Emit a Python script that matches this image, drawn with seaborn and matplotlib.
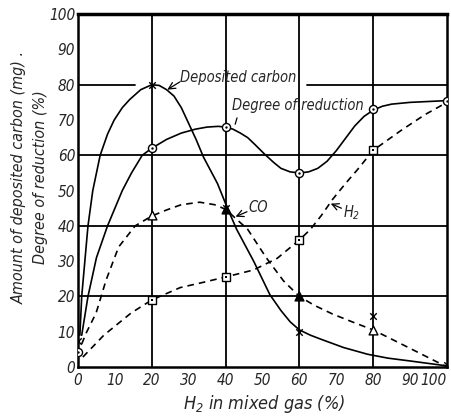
import matplotlib
matplotlib.use("Agg")
import matplotlib.pyplot as plt
import seaborn as sns
import pandas as pd

sns.set_theme(style="white")
plt.rcParams["font.family"] = ["DejaVu Sans"]
plt.rcParams["font.stretch"] = "condensed"
plt.rcParams["font.style"] = "italic"
plt.rcParams["mathtext.fontset"] = "dejavusans"
plt.rcParams["mathtext.default"] = "it"

# curves
carbon_x = [0.5, 1, 2.7, 4, 6, 8, 9.8, 12, 14, 17, 20, 22, 24, 26, 28, 30, 32, 34, 37.8, 40.5,
            43, 47.6, 52, 55, 57.5, 60, 63, 66, 72, 78.5, 84, 90, 95, 100]
carbon_y = [9, 20, 40, 50, 60, 66, 70, 73.5, 75.8, 78.6, 80, 79.8, 78.6, 76.8, 73.5, 69, 64.5, 59.5, 52, 45,
            39, 30, 20.5, 16, 12.8, 10.5, 9, 7.8, 5.5, 3.6, 2.5, 1.7, 1, 0.3]
reduct_x = [1, 2.7, 5, 8, 12, 14.5, 17.4, 20, 24, 28, 31.8, 35, 38, 40, 42, 44, 46, 48, 50.4, 53, 55, 57.5,
            60, 62.5, 65, 67.5, 70, 72.5, 75, 77.5, 80, 82.5, 85, 90, 100]
reduct_y = [9, 20, 31, 40, 50, 55, 60, 62, 64.5, 66.3, 67.4, 68, 68.2, 68, 67.4, 66.3, 65, 63, 60.5, 58,
            56.3, 55.3, 55, 55.3, 56.3, 58.3, 61.3, 64.8, 68.3, 71, 72.8, 73.9, 74.5, 75, 75.5]
co_x = [1, 2.2, 4.9, 7.6, 11, 15.5, 20, 24, 28, 33, 37, 40, 46, 51, 55.7, 60, 64, 69, 75, 80, 89, 100]
co_y = [6.5, 9.6, 15.3, 24.6, 34, 40, 42.8, 44.5, 46, 46.7, 46, 44.7, 39, 31, 24.4, 20, 17.5, 15, 12.5,
        10.5, 5.8, 0]
h2_x = [1.3, 7, 14.4, 20, 27.7, 34, 40, 47.6, 54, 60, 63, 66, 69, 72.5, 75.8, 80, 87.5, 94, 100]
h2_y = [2.8, 9, 15.3, 19, 22.5, 24, 25.5, 27.5, 30.8, 36, 39, 43, 47.5, 52, 56, 61.4, 67, 71.5, 75]

# measured points
h2_pct = [0, 20, 40, 60, 80, 100]
carbon_pts = [7.5, 80, 45, 10, 14.5, 0.5]
reduct_pts = [4.3, 62, 68, 55, 73, 75.3]
co_pct = [20, 40, 60, 80]
co_pts = [43, 44.7, 20, 10.5]
co_filled = [False, True, True, False]
h2_pct_sq = [20, 40, 60, 80]
h2_pts = [19, 25.5, 36, 61.4]

x_ticks = list(range(0, 101, 10))
y_ticks = list(range(0, 101, 10))
grid_levels = [20, 40, 60, 80]

fig = plt.figure(figsize=(4.51, 4.17), dpi=100)
ax = fig.add_axes([0.173, 0.12, 0.818, 0.846])

lw = 1.2
for xs, ys, dash in [(carbon_x, carbon_y, None), (reduct_x, reduct_y, None),
                     (co_x, co_y, (4, 3)), (h2_x, h2_y, (4, 3))]:
    d = pd.DataFrame({"x": xs, "y": ys})
    sns.lineplot(data=d, x="x", y="y", ax=ax, color="black", lw=lw,
                 sort=False, estimator=None)
    ax.lines[-1].set_solid_joinstyle("round")
    if dash:
        ax.lines[-1].set_dashes(dash)

ms = 34
sns.scatterplot(x=h2_pct, y=carbon_pts, ax=ax, marker="x", color="black", s=22, linewidth=1, zorder=5)
sns.scatterplot(x=h2_pct, y=reduct_pts, ax=ax, marker="o", facecolor="white", edgecolor="black", s=ms, linewidth=1, zorder=5)
sns.scatterplot(x=h2_pct, y=reduct_pts, ax=ax, marker="o", color="black", s=3, linewidth=0, zorder=6)
sns.scatterplot(x=h2_pct_sq, y=h2_pts, ax=ax, marker="s", facecolor="white", edgecolor="black", s=ms, linewidth=1, zorder=5)
sns.scatterplot(x=h2_pct_sq, y=h2_pts, ax=ax, marker="s", color="black", s=3, linewidth=0, zorder=6)
for xv, yv, f in zip(co_pct, co_pts, co_filled):
    ax.scatter([xv], [yv], marker="^", facecolor="black" if f else "white",
               edgecolor="black", s=40, linewidth=1, zorder=5)

# grid
for v in grid_levels:
    if v == 80:
        ax.axhline(v, xmax=0.155, color="black", lw=1.3, zorder=1)
        ax.axhline(v, xmin=0.62, color="black", lw=1.3, zorder=1)
    else:
        ax.axhline(v, color="black", lw=1.3, zorder=1)
    ax.axvline(v, color="black", lw=1.3, zorder=1)

ax.set_xlim(0, 100)
ax.set_ylim(0, 100)
ax.set_xticks(x_ticks)
ax.set_yticks(y_ticks)
ax.tick_params(direction="in", length=5, width=1.2, color="black", labelsize=11)
ax.tick_params(axis="x", pad=4)
ax.tick_params(axis="y", pad=2)
xl = ax.get_xticklabels()
xl[-1].set_ha("right")
for s in ax.spines.values():
    s.set_color("black")
    s.set_linewidth(1.8)
ax.spines["top"].set_linewidth(2.5)
ax.set_xlabel("")
ax.set_ylabel("")

# annotations
tfs = 10.5
ax.text(27.7, 82.0, "Deposited carbon", fontsize=tfs, ha="left", va="center")
ax.annotate("", xy=(24.2, 78.6), xytext=(27.6, 80.8),
            arrowprops=dict(arrowstyle="->", color="black", lw=0.9, shrinkA=0, shrinkB=0))
ax.text(41.8, 74, "Degree of reduction", fontsize=tfs, ha="left", va="center")
ax.plot([43.1, 42.6], [70.6, 68.8], color="black", lw=0.9)
ax.text(46.2, 45.3, "CO", fontsize=tfs, ha="left", va="center")
ax.annotate("", xy=(42.7, 42.6), xytext=(45.8, 44.0),
            arrowprops=dict(arrowstyle="->", color="black", lw=0.9, shrinkA=0, shrinkB=0))
ax.text(71.8, 43.6, "$H_2$", fontsize=tfs, ha="left", va="center")
ax.annotate("", xy=(68.5, 46.3), xytext=(71.4, 45.0),
            arrowprops=dict(arrowstyle="->", color="black", lw=0.9, shrinkA=0, shrinkB=0))

fig.text(0.585, 0.031, "$H_2$ in mixed gas (%)", fontsize=13, ha="center", va="center")
fig.text(0.043, 0.575, "Amount of deposited carbon (mg) .", fontsize=11.5, rotation=90,
         ha="center", va="center")
fig.text(0.090, 0.575, "Degree of reduction (%)", fontsize=11.5, rotation=90,
         ha="center", va="center")

fig.savefig("out.png", dpi=100)
